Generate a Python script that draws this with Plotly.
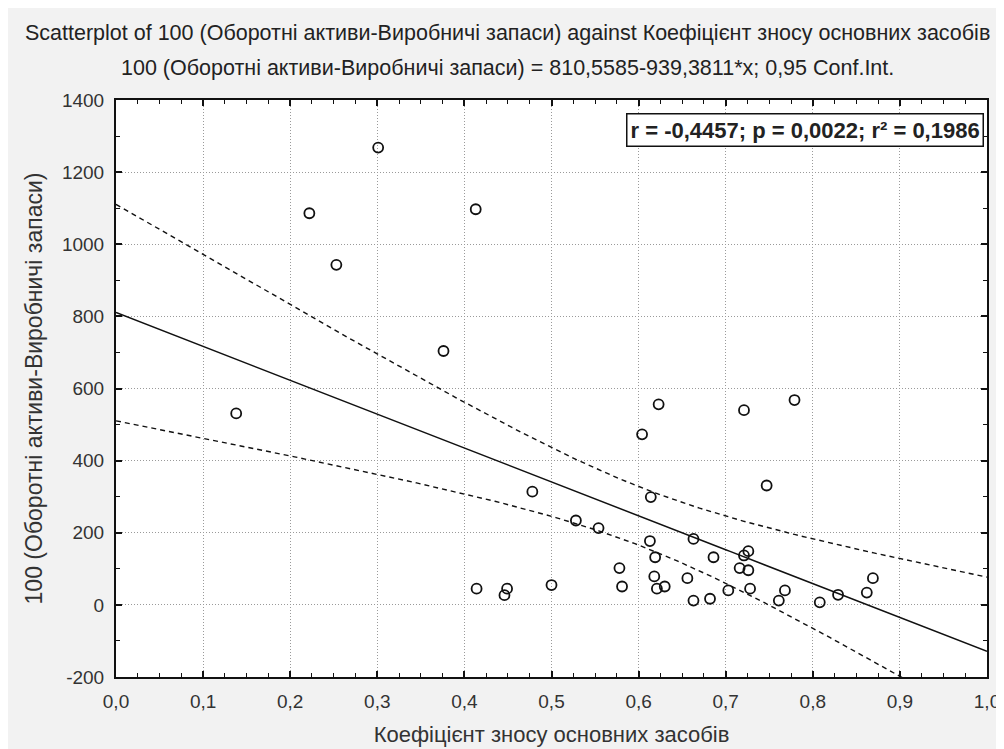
import numpy as np
import plotly.graph_objects as go

# ---- data ----
x_wear = [0.138, 0.222, 0.253, 0.301, 0.376, 0.413,
          0.623, 0.779, 0.721, 0.604, 0.747, 0.478, 0.614, 0.528, 0.554,
          0.613, 0.663, 0.619, 0.686, 0.726, 0.721, 0.716, 0.726, 0.578,
          0.618, 0.656, 0.581, 0.621, 0.630, 0.703, 0.728, 0.768, 0.761,
          0.663, 0.682, 0.808, 0.829, 0.862, 0.869,
          0.414, 0.449, 0.446, 0.500]
y_assets = [531, 1086, 943, 1268, 704, 1097,
            556, 568, 540, 473, 331, 314, 299, 234, 213,
            177, 183, 132, 132, 149, 137, 102, 96, 102,
            79, 74, 51, 45, 51, 40, 45, 40, 12,
            12, 17, 7, 28, 34, 74,
            45, 45, 27, 55]

intercept = 810.5585
slope = -939.3811
conf_level = 0.95
t_crit = 2.0195  # Student t, 0.975 quantile, df = n - 2

x_tick_vals = [0.0, 0.1, 0.2, 0.3, 0.4, 0.5, 0.6, 0.7, 0.8, 0.9, 1.0]
x_tick_labels = ["0,0", "0,1", "0,2", "0,3", "0,4", "0,5", "0,6", "0,7", "0,8", "0,9", "1,0"]
y_tick_vals = [-200, 0, 200, 400, 600, 800, 1000, 1200, 1400]
y_tick_labels = ["-200", "0", "200", "400", "600", "800", "1000", "1200", "1400"]

title1 = "Scatterplot of 100 (Оборотні активи-Виробничі запаси) against Коефіцієнт зносу основних засобів"
title2 = "100 (Оборотні активи-Виробничі запаси) = 810,5585-939,3811*x; 0,95 Conf.Int."
stats_text = "r = -0,4457; p = 0,0022; r² = 0,1986"
x_title = "Коефіцієнт зносу основних засобів"
y_title = "100 (Оборотні активи-Виробничі запаси)"

# ---- regression line and confidence band from the data ----
xa = np.array(x_wear, dtype=float)
ya = np.array(y_assets, dtype=float)
n = len(xa)
resid = ya - (intercept + slope * xa)
s = np.sqrt(np.sum(resid ** 2) / (n - 2))
sxx = np.sum((xa - xa.mean()) ** 2)
xg = np.linspace(0, 1, 201)
yfit = intercept + slope * xg
half = t_crit * s * np.sqrt(1.0 / n + (xg - xa.mean()) ** 2 / sxx)

FONT = "Liberation Sans, Arial, sans-serif"

fig = go.Figure()
fig.add_trace(go.Scatter(x=xg, y=yfit + half, mode="lines",
                         line=dict(color="#111111", width=1.4, dash="5px,4px"), hoverinfo="skip"))
fig.add_trace(go.Scatter(x=xg, y=yfit - half, mode="lines",
                         line=dict(color="#111111", width=1.4, dash="5px,4px"), hoverinfo="skip"))
fig.add_trace(go.Scatter(x=xg, y=yfit, mode="lines",
                         line=dict(color="#111111", width=1.5), hoverinfo="skip"))
fig.add_trace(go.Scatter(x=x_wear, y=y_assets, mode="markers",
                         marker=dict(symbol="circle-open", size=10, color="#111111",
                                     line=dict(width=1.8, color="#111111"))))

axis_common = dict(
    showline=True, linecolor="#111111", linewidth=2, mirror="allticks",
    ticks="inside", ticklen=6, tickwidth=1.5, tickcolor="#111111",
    showgrid=True, gridcolor="#9a9a9a", gridwidth=1, griddash="1px,2px",
    zeroline=False, tickfont=dict(family=FONT, size=19, color="#333333"),
    ticklabelstandoff=6,
)

fig.update_xaxes(range=[0, 1], tickvals=x_tick_vals, ticktext=x_tick_labels,
                 minor=dict(dtick=0.025, tick0=0, ticks="inside", ticklen=4,
                            tickcolor="#111111", tickwidth=1.2, showgrid=False),
                 title=dict(text=x_title, font=dict(family=FONT, size=22, color="#333333"), standoff=16),
                 **axis_common)
fig.update_yaxes(range=[-200, 1400], tickvals=y_tick_vals, ticktext=y_tick_labels,
                 minor=dict(dtick=100, tick0=0, ticks="inside", ticklen=4,
                            tickcolor="#111111", tickwidth=1.2, showgrid=False),
                 title=dict(text=y_title, font=dict(family=FONT, size=23, color="#333333"), standoff=13),
                 **axis_common)

fig.add_annotation(text=title1, xref="paper", yref="paper", x=0.449, y=1.116,
                   showarrow=False, font=dict(family=FONT, size=21.5, color="#222222"),
                   xanchor="center", yanchor="middle")
fig.add_annotation(text=title2, xref="paper", yref="paper", x=0.449, y=1.056,
                   showarrow=False, font=dict(family=FONT, size=21.5, color="#222222"),
                   xanchor="center", yanchor="middle")
fig.add_annotation(text="<b>" + stats_text + "</b>", xref="paper", yref="paper",
                   x=0.997, y=0.978, xanchor="right", yanchor="top", showarrow=False,
                   font=dict(family=FONT, size=22, color="#222222"),
                   bgcolor="white", bordercolor="#111111", borderwidth=1.5, borderpad=3)

fig.update_layout(
    width=1004, height=749,
    margin=dict(l=108, r=22, t=92, b=80),
    paper_bgcolor="#f2f2f2", plot_bgcolor="white",
    showlegend=False,
    font=dict(family=FONT),
)

fig.write_html("out.html")
